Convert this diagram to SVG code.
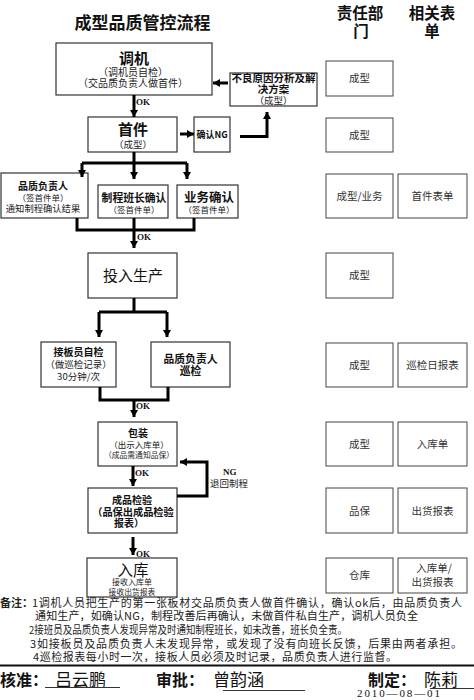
<svg xmlns="http://www.w3.org/2000/svg" width="474" height="700" viewBox="0 0 474 700">
<style>
text{font-family:"Noto Sans CJK SC","Noto Sans",sans-serif;fill:#111;text-anchor:middle}
.b{font-weight:bold}
.box{fill:#fff;stroke:#333;stroke-width:1.2}
.rb{fill:#fff;stroke:#444;stroke-width:1}
.rt{font-size:10.5px;fill:#333}
.sm{fill:#222}
.ok{font-family:"Liberation Serif",serif;font-weight:bold;font-size:9px;text-anchor:start}
.ln{fill:none;stroke:#000;stroke-width:3}
.note{font-size:11px;text-anchor:start;fill:#222}
.st{text-anchor:start}
</style>
<defs>
<marker id="ah" markerUnits="userSpaceOnUse" markerWidth="10" markerHeight="10" refX="7" refY="4" orient="auto">
<path d="M0,0 L7,4 L0,8 z" fill="#000"/>
</marker>
</defs>
<rect width="474" height="700" fill="#fff"/>
<text x="142.5" y="29" class="b" font-size="17">成型品质管控流程</text>
<text x="360" y="19" class="b" font-size="15.5">责任部</text>
<text x="361" y="37" class="b" font-size="15.5">门</text>
<text x="432" y="19" class="b" font-size="15.5">相关表</text>
<text x="432" y="37" class="b" font-size="15.5">单</text>

<g id="n-tiaoji">
<rect class="box" x="56" y="43" width="156" height="52"/>
<text x="134" y="64" class="b" font-size="15">调机</text>
<text x="133" y="76" class="sm" font-size="10">（调机员自检）</text>
<text x="133" y="87" class="sm" font-size="10">（交品质负责人做首件）</text>
</g>
<g id="n-buliang">
<rect class="box" x="230" y="73" width="87" height="33"/>
<text x="273.5" y="82" class="b" font-size="10.5">不良原因分析及解</text>
<text x="273.5" y="93" class="b" font-size="10.5">决方案</text>
<text x="273.5" y="104" class="sm" font-size="9.5">（成型）</text>
</g>
<g id="n-shoujian">
<rect class="box" x="88" y="117" width="89" height="35"/>
<text x="133" y="135" class="b" font-size="15">首件</text>
<text x="133" y="148" class="sm" font-size="9.5">（成型）</text>
</g>
<g id="n-queren-ng">
<rect class="box" x="194" y="117" width="36" height="35"/>
<text x="212" y="138" class="b" font-size="9">确认NG</text>
</g>
<g id="n-pinzhi1">
<rect class="box" x="1" y="173" width="87" height="45"/>
<text x="43" y="190" class="b" font-size="10">品质负责人</text>
<text x="43" y="201" class="sm" font-size="8.5">（签首件单）</text>
<text x="43" y="212" class="sm" font-size="9.3">通知制程确认结果</text>
</g>
<g id="n-zhicheng">
<rect class="box" x="98" y="185" width="70" height="33"/>
<text x="134" y="202" class="b" font-size="10.8">制程班长确认</text>
<text x="134" y="213" class="sm" font-size="8.5">（签首件单）</text>
</g>
<g id="n-yewu">
<rect class="box" x="177" y="185" width="61" height="33"/>
<text x="209" y="202" class="b" font-size="12.5">业务确认</text>
<text x="209" y="213" class="sm" font-size="8.5">（签首件单）</text>
</g>
<g id="n-touru">
<rect class="box" x="88" y="253" width="89" height="45"/>
<text x="133" y="281" font-size="15">投入生产</text>
</g>
<g id="n-jieban">
<rect class="box" x="41" y="342" width="75" height="45"/>
<text x="78.5" y="356" class="b" font-size="10">接板员自检</text>
<text x="78.5" y="368" class="sm" font-size="9.5">（做巡检记录）</text>
<text x="78.5" y="380" class="sm" font-size="9.5">30分钟/次</text>
</g>
<g id="n-xunjian">
<rect class="box" x="151" y="342" width="79" height="45"/>
<text x="190.5" y="363" class="b" font-size="10.8">品质负责人</text>
<text x="190.5" y="375" class="b" font-size="10.8">巡检</text>
</g>
<g id="n-baozhuang">
<rect class="box" x="98" y="422" width="79" height="44"/>
<text x="138" y="437" class="b" font-size="10">包装</text>
<text x="139" y="448" class="sm" font-size="8.5">（出示入库单）</text>
<text x="139" y="458" class="sm" font-size="7.8">（成品需通知品保）</text>
</g>
<g id="n-jianyan">
<rect class="box" x="88" y="488" width="89" height="45"/>
<text x="132" y="504" class="b" font-size="10">成品检验</text>
<text x="133" y="516" class="b" font-size="10.2">（品保出成品检验</text>
<text x="129" y="527" class="b" font-size="10">报表）</text>
</g>
<g id="n-ruku">
<rect class="box" x="87" y="558" width="90" height="39"/>
<text x="133" y="576" font-size="15.5">入库</text>
<text x="132" y="585" class="sm" font-size="8">接收入库单</text>
<text x="132" y="595" class="sm" font-size="7.8">接收出货报表</text>
</g>

<g id="dept-col">
<rect class="rb" x="326" y="61" width="67" height="35"/><text class="rt" x="359.5" y="82">成型</text>
<rect class="rb" x="326" y="118" width="67" height="34"/><text class="rt" x="359.5" y="139">成型</text>
<rect class="rb" x="326" y="174" width="67" height="44"/><text class="rt" x="359.5" y="200">成型/业务</text>
<rect class="rb" x="326" y="253" width="67" height="45"/><text class="rt" x="359.5" y="279">成型</text>
<rect class="rb" x="326" y="343" width="67" height="44"/><text class="rt" x="359.5" y="369">成型</text>
<rect class="rb" x="326" y="422" width="67" height="44"/><text class="rt" x="359.5" y="448">成型</text>
<rect class="rb" x="326" y="488" width="67" height="45"/><text class="rt" x="359.5" y="515">品保</text>
<rect class="rb" x="326" y="558" width="67" height="35"/><text class="rt" x="359.5" y="579">仓库</text>
</g>
<g id="form-col">
<rect class="rb" x="398" y="174" width="69" height="44"/><text class="rt" x="432.5" y="200">首件表单</text>
<rect class="rb" x="398" y="343" width="69" height="44"/><text class="rt" x="432.5" y="369">巡检日报表</text>
<rect class="rb" x="398" y="422" width="69" height="44"/><text class="rt" x="432.5" y="448">入库单</text>
<rect class="rb" x="398" y="488" width="69" height="45"/><text class="rt" x="432.5" y="515">出货报表</text>
<rect class="rb" x="398" y="558" width="69" height="35"/><text class="rt" x="434" y="572">入库单/</text><text class="rt" x="432.5" y="586">出货报表</text>
</g>

<g id="connectors">
<path class="ln" stroke-width="2.5" d="M134,95 V117" marker-end="url(#ah)"/>
<text class="ok" x="136" y="105">OK</text>
<path class="ln" stroke-width="2" d="M228,83 H213" marker-end="url(#ah)"/>
<path class="ln" stroke-width="2" d="M180,134 H194" marker-end="url(#ah)"/>
<path class="ln" stroke-width="2.5" d="M240,136.5 H267 V112" marker-end="url(#ah)"/>
<path class="ln" d="M134,152 V163 M82,163 H187"/>
<path class="ln" d="M82,163 V177" marker-end="url(#ah)"/>
<path class="ln" d="M134,163 V179" marker-end="url(#ah)"/>
<path class="ln" d="M187,163 V179" marker-end="url(#ah)"/>
<path class="ln" d="M77,218 V230 H194 V218 M134,218 V230"/>
<path class="ln" d="M134,230 V248" marker-end="url(#ah)"/>
<text class="ok" x="137" y="240">OK</text>
<path class="ln" d="M134,298 V312 M99,312 H167"/>
<path class="ln" d="M99,312 V337" marker-end="url(#ah)"/>
<path class="ln" d="M167,312 V337" marker-end="url(#ah)"/>
<path class="ln" d="M100,387 V400 H168 V387"/>
<path class="ln" d="M134,400 V417" marker-end="url(#ah)"/>
<text class="ok" x="136" y="409">OK</text>
<path class="ln" stroke-width="3.5" d="M133,466 V486" marker-end="url(#ah)"/>
<text class="ok" x="135" y="476">OK</text>
<path class="ln" stroke-width="2.5" d="M177,496 H207 V462 H180" marker-end="url(#ah)"/>
<text class="ok" x="223" y="475">NG</text>
<text x="229" y="487" class="sm" font-size="9.5">退回制程</text>
<path class="ln" stroke-width="4" d="M133,537 V555" marker-end="url(#ah)"/>
<text class="ok" x="136" y="557">OK</text>
</g>

<g id="notes">
<text x="0" y="607" class="note b">备注：</text>
<text x="32" y="607" class="note" textLength="430" lengthAdjust="spacing">1调机人员把生产的第一张板材交品质负责人做首件确认，确认ok后，由品质负责人</text>
<text x="35" y="620" class="note" textLength="383" lengthAdjust="spacing">通知生产，如确认NG，制程改善后再确认，未做首件私自生产，调机人员负全</text>
<text x="29" y="634" class="note" font-size="10" textLength="318" lengthAdjust="spacingAndGlyphs">2接班员及品质负责人发现异常及时通知制程班长，如未改善，班长负全责。</text>
<text x="30" y="648" class="note" textLength="432" lengthAdjust="spacing">3如接板员及品质负责人未发现异常，或发现了没有向班长反馈，后果由两者承担。</text>
<text x="33" y="661" class="note" textLength="364" lengthAdjust="spacing">4巡检报表每小时一次，接板人员必须及时记录，品质负责人进行监督。</text>
</g>
<line x1="0" y1="665.5" x2="474" y2="665.5" stroke="#111" stroke-width="2"/>
<g id="signatures">
<text x="0" y="686" class="b st" font-size="16">核准：</text>
<text x="55" y="686" class="st" font-size="17">吕云鹏</text>
<line x1="45" y1="687.5" x2="120" y2="687.5" stroke="#333" stroke-width="1"/>
<text x="156" y="686" class="b st" font-size="16">审批：</text>
<text x="213" y="686" class="st" font-size="17">曾韵涵</text>
<line x1="223" y1="690.5" x2="305" y2="690.5" stroke="#333" stroke-width="1"/>
<text x="368" y="686" class="b st" font-size="16">制定：</text>
<text x="424" y="686" class="st" font-size="17">陈莉</text>
<line x1="430" y1="688.5" x2="474" y2="688.5" stroke="#333" stroke-width="1"/>
<text x="357" y="697" class="st" font-size="11" style="font-family:'Liberation Serif',serif" textLength="83" lengthAdjust="spacing">2010—08—01</text>
</g>
</svg>
